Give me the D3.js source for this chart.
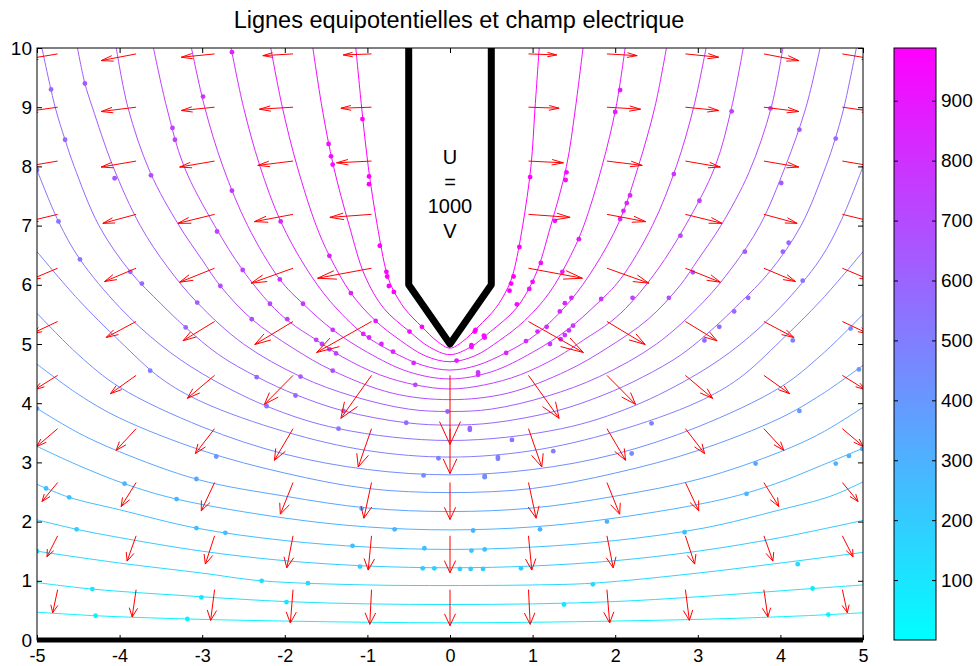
<!DOCTYPE html>
<html>
<head>
<meta charset="utf-8">
<script src="https://cdn.jsdelivr.net/npm/d3@7"></script>
<style>
  body { margin: 0; background: #fff; }
  text { font-family: "Liberation Sans", Arial, sans-serif; }
</style>
</head>
<body>
<script>
// ---- data ----
const xTicks = [-5, -4, -3, -2, -1, 0, 1, 2, 3, 4, 5];
const yTicks = [0, 1, 2, 3, 4, 5, 6, 7, 8, 9, 10];
const cbarTicks = [100, 200, 300, 400, 500, 600, 700, 800, 900];
const cbarRange = [0, 988];

// potential of each equipotential line (V)
const levels = [49, 99, 148, 198, 247, 296, 346, 395, 445, 494,
                543, 593, 642, 692, 741, 790, 840, 889, 939, 988];

const eq1 = [[-5,0.47],[-4.29,0.41],[-3.18,0.355],[-2,0.32],[-1,0.3],[0,0.29],[1,0.3],[2,0.32],[3.18,0.355],[4.3,0.41],[5,0.46]];
const eq2 = [[-5,0.97],[-4.33,0.86],[-3,0.73],[-2,0.65],[-1,0.61],[0,0.6],[1,0.61],[2,0.65],[3,0.73],[4.39,0.87],[5,0.93]];
const eq3 = [[-5,1.5],[-4,1.3],[-3,1.13],[-2.28,1],[-1,0.93],[0,0.92],[1,0.93],[1.73,0.96],[3,1.13],[4,1.3],[5,1.48]];
const eq4 = [[-5,2.03],[-4.52,1.87],[-4,1.73],[-3,1.5],[-2,1.34],[-1,1.25],[0,1.22],[1,1.25],[2,1.34],[3,1.5],[4,1.73],[5,2.02]];
const eq5 = [[-5,2.63],[-4.61,2.41],[-4,2.2],[-3.07,1.89],[-2,1.68],[-1,1.57],[0,1.53],[1,1.57],[2,1.68],[3.07,1.89],[4,2.2],[4.61,2.43],[5,2.67]];
const eq6 = [[-5,3.27],[-4.5,2.95],[-3.94,2.64],[-3.31,2.38],[-2,2.06],[-1,1.91],[0,1.86],[1,1.91],[2,2.06],[3.31,2.38],[3.94,2.64],[4.5,2.95],[5,3.24]];
const eq7 = [[-5,3.91],[-4.5,3.5],[-4,3.18],[-3.05,2.71],[-2,2.43],[-1,2.23],[0,2.17],[1,2.23],[2,2.43],[3.05,2.73],[4,3.18],[4.5,3.5],[5,3.93]];
const eq8 = [[-5,4.66],[-4.5,4.15],[-4,3.75],[-3,3.2],[-2,2.82],[-1,2.56],[0,2.49],[1,2.56],[2,2.82],[3,3.2],[4,3.75],[4.5,4.15],[5,4.64]];
const eq9 = [[-5,5.52],[-4.5,4.82],[-4,4.27],[-3,3.6],[-2,3.14],[-1,2.88],[0,2.79],[1,2.88],[2,3.14],[3,3.6],[4,4.27],[4.5,4.82],[5,5.5]];
const eq10 = [[-5,6.56],[-4.5,5.75],[-4,5.05],[-3.5,4.42],[-3,4.02],[-2,3.52],[-1,3.2],[0,3.09],[1,3.2],[2,3.52],[3,4.02],[3.5,4.42],[4,5.05],[4.5,5.75],[5,6.56]];
const eq11 = [[-5,7.94],[-4.74,7.07],[-4.48,6.43],[-4,5.62],[-3.5,4.98],[-3,4.5],[-2.22,3.95],[-1.35,3.57],[0,3.37],[1.35,3.57],[2.22,3.95],[3,4.5],[3.5,4.98],[4,5.62],[4.48,6.43],[4.74,7.1],[5,8.0]];
const eq12 = [[-4.94,10],[-4.78,9],[-4.66,8.45],[-4.55,8],[-4.25,7],[-3.87,6.22],[-3.5,5.68],[-3.2,5.28],[-2.8,4.82],[-2.33,4.44],[-1.86,4.14],[-1.29,3.87],[-0.53,3.67],[0,3.63],
              [0.53,3.67],[1.29,3.87],[1.86,4.14],[2.33,4.44],[2.8,4.82],[3.2,5.28],[3.5,5.68],[3.87,6.22],[4.25,7],[4.55,8],[4.66,8.45],[4.77,9],[4.92,10]];
const eq13 = [[-4.51,10],[-4.42,9.4],[-4.33,9],[-4.08,8],[-3.75,7],[-3.42,6.3],[-3.06,5.7],[-2.5,5],[-1.81,4.45],[-1.18,4.12],[-0.5,3.9],[0,3.86],
              [0.5,3.9],[1.18,4.12],[1.81,4.45],[2.5,5],[3.06,5.7],[3.42,6.3],[3.75,7],[4.06,8],[4.31,9],[4.48,10]];
const eq14 = [[-4.04,10],[-3.9,9],[-3.63,7.9],[-3.28,7],[-3,6.42],[-2.78,5.98],[-2.4,5.42],[-1.9,4.93],[-1.42,4.55],[-0.7,4.17],[0,4.06],
              [0.7,4.17],[1.42,4.55],[1.9,4.93],[2.4,5.42],[2.78,5.98],[3,6.42],[3.28,7],[3.62,7.9],[3.89,9],[4.03,10]];
const eq15 = [[-3.59,10],[-3.43,9],[-3.22,8],[-2.85,7],[-2.51,6.25],[-2.18,5.68],[-1.95,5.38],[-1.62,5.07],[-1.3,4.78],[-0.85,4.48],[-0.42,4.31],[0,4.24],
              [0.42,4.31],[0.85,4.48],[1.3,4.78],[1.62,5.07],[1.95,5.38],[2.18,5.68],[2.51,6.25],[2.85,7],[3.21,8],[3.41,9],[3.55,10]];
const eq16 = [[-3.13,10],[-2.97,9],[-2.75,8],[-2.45,7],[-2.06,6.09],[-1.78,5.68],[-1.42,5.24],[-1,4.86],[-0.5,4.53],[0,4.41],
              [0.5,4.53],[1,4.86],[1.42,5.24],[1.78,5.68],[2.06,6.09],[2.45,7],[2.74,8],[2.95,9],[3.1,10]];
const eq17 = [[-2.65,10],[-2.5,9],[-2.3,8],[-2.05,7.07],[-1.75,6.3],[-1.45,5.72],[-1.05,5.17],[-0.7,4.87],[-0.33,4.64],[0,4.56],
              [0.33,4.64],[0.7,4.87],[1.05,5.17],[1.45,5.72],[1.75,6.3],[2.05,7.07],[2.28,8],[2.48,9],[2.62,10]];
const eq18 = [[-2.17,10],[-2.03,9],[-1.85,8],[-1.62,7],[-1.46,6.49],[-1.2,5.86],[-0.9,5.39],[-0.6,5.06],[-0.3,4.8],[0,4.7],
              [0.3,4.8],[0.6,5.06],[0.9,5.39],[1.2,5.86],[1.46,6.49],[1.62,7],[1.84,8],[2.01,9],[2.12,10]];
const eq19 = [[-1.66,10],[-1.55,9],[-1.41,8],[-1.22,7],[-1.03,6.15],[-0.8,5.6],[-0.49,5.21],[-0.25,4.95],[0,4.82],
              [0.25,4.95],[0.49,5.21],[0.8,5.6],[1.03,6.15],[1.22,7],[1.41,8],[1.52,9],[1.61,10]];
const eq20 = [[-1.14,10],[-1.07,9],[-0.99,8],[-0.88,7],[-0.77,6.22],[-0.7,5.95],[-0.55,5.6],[-0.34,5.29],[-0.15,5.04],[0,4.93],
              [0.15,5.04],[0.34,5.29],[0.55,5.6],[0.7,5.95],[0.77,6.22],[0.88,7],[0.98,8],[1.03,9],[1.08,10]];
const equipotentials = [eq1, eq2, eq3, eq4, eq5, eq6, eq7, eq8, eq9, eq10,
                        eq11, eq12, eq13, eq14, eq15, eq16, eq17, eq18, eq19, eq20];

// marker dots seen along the contour lines
const dotsLeft = [[-4.29,0.41],[-3.18,0.355],[-4.33,0.86],[-3.01,0.72],[-1.98,0.64],[-2.28,1.0],[-1.72,0.96],[-5,1.5],
  [-4.52,1.87],[-3.07,1.89],[-2.72,1.81],[-0.67,1.87],[-1.18,1.59],[-0.31,1.55],[-1.09,1.24],[-0.33,1.21],[-0.19,1.21],
  [-4.89,2.56],[-4.61,2.41],[-3.94,2.64],[-3.31,2.38],[-1.07,2.22],[-2.83,3.1],[-3.07,2.72],[-0.32,2.78],[-5,3.91],
  [-3.63,4.55],[-2.22,3.95],[-1.35,3.57],[-0.53,3.67],[-0.14,3.07],[-1.87,4.13],[-1.81,4.45],[-1.42,4.55],[-0.42,4.31],
  [-2.34,4.44],[-3.2,5.28],[-1.29,3.87],[-0.03,3.86],[-4.83,9.3],[-4.66,8.45],[-5,7.94],[-4.74,7.07],[-4.48,6.43],
  [-4.42,9.4],[-4.06,7.8],[-3.87,6.22],[-3.73,6.02],[-3.62,7.85],[-3.36,8.65],[-3.33,8.45],[-2.99,9.18],[-2.64,9.93],
  [-2.64,7.59],[-2.82,6.9],[-3.06,5.7],[-2.51,6.25],[-2.78,5.98],[-2.4,5.42],[-2.18,5.68],[-2.05,7.07],[-2.06,6.09],
  [-1.97,5.42],[-1.78,5.68],[-1.46,6.49],[-1.2,5.86],[-1.42,5.24],[-1.62,5.07],[-1.55,5.0],[-1.46,4.91],[-1.38,4.84],
  [-1.05,5.17],[-0.9,5.39],[-1.06,8.8],[-0.98,7.83],[-0.98,7.7],[-1.47,8.38],[-1.44,8.17],[-1.42,8.03],[-0.85,6.66],
  [-0.77,6.22],[-0.76,6.14],[-0.74,5.98],[-0.68,5.88],[-0.44,4.68],[-0.69,4.87],[-0.83,5.0],[-0.98,5.11],[-0.49,5.21],[-0.34,5.29]];
const dotsRight = [[0.97,7.82],[0.84,6.64],[0.77,6.14],[0.74,6.02],[0.72,5.9],[0.81,5.67],[0.3,5.21],[0.42,5.11],[0.26,4.95],
  [0.08,4.72],[1.41,7.9],[1.4,7.77],[1.27,7.08],[1.1,6.37],[1.0,6.05],[0.96,5.93],[2.06,9.29],[2.0,8.92],[2.18,7.51],
  [2.14,7.38],[2.1,7.25],[2.06,7.11],[1.56,6.77],[1.36,6.22],[1.47,5.78],[1.39,5.69],[1.33,5.55],[1.17,5.29],[1.06,5.21],
  [0.92,5.05],[0.68,4.85],[0.34,4.48],[1.49,5.31],[1.44,5.23],[1.39,5.15],[1.34,5.08],[1.21,5.0],[1.83,5.76],[2.21,5.78],
  [2.65,5.78],[2.94,6.21],[2.79,6.83],[2.71,7.87],[3.02,7.42],[3.41,8.93],[3.88,8.98],[4.23,8.62],[4.67,8.47],[4.01,7.72],
  [3.57,6.56],[4.1,6.71],[4.03,6.56],[3.61,5.78],[3.44,5.55],[3.26,5.29],[3.08,5.06],[4.27,6.07],[4.15,5.06],[4.85,5.26],
  [4.95,4.57],[4.23,3.87],[4.99,3.23],[3.7,2.98],[4.67,2.98],[4.83,3.11],[3.59,2.47],[2.84,1.82],[4.21,1.28],[4.39,0.87],
  [4.58,0.43],[1.73,0.94],[1.38,0.6],[0.86,1.21],[0.4,1.2],[0.25,1.2],[0.12,1.2],[0.26,1.51],[0.42,1.53],[1.09,1.87],
  [0.28,1.85],[1.9,2.0],[0.42,2.75],[0.58,3.06],[1.25,3.19],[2.2,3.15],[0.75,3.38],[2.44,3.66],[0.24,3.55],[0.31,5.24],
  [0.41,5.14],[0.26,4.98],[0.34,4.52],[0.24,3.58],[0.58,3.09],[0.42,2.77]];

// electric field arrows (quiver): grid and displayed components
const arrowCols = [-4.75, -3.8, -2.85, -1.9, -0.95, 0, 0.95, 1.9, 2.85, 3.8, 4.75];
const arrowRows = [9.9, 9.0, 8.09, 7.19, 6.28, 5.38, 4.47, 3.57, 2.66, 1.76, 0.85];
const arrowU = [
  [-0.363,-0.423,-0.403,-0.366,-0.342,null,0.342,0.366,0.403,0.423,0.363],
  [-0.363,-0.423,-0.403,-0.407,-0.371,null,0.371,0.407,0.403,0.423,0.363],
  [-0.363,-0.423,-0.423,-0.427,-0.423,null,0.423,0.427,0.423,0.423,0.363],
  [-0.363,-0.403,-0.444,-0.468,-0.504,null,0.504,0.468,0.444,0.403,0.363],
  [-0.339,-0.383,-0.423,-0.508,-0.653,null,0.653,0.508,0.423,0.383,0.339],
  [-0.314,-0.363,-0.383,-0.463,-0.665,null,0.665,0.463,0.383,0.363,0.314],
  [-0.278,-0.311,-0.330,-0.347,-0.371,0,0.371,0.347,0.330,0.311,0.278],
  [-0.254,-0.242,-0.233,-0.226,-0.161,0,0.161,0.226,0.233,0.242,0.254],
  [-0.190,-0.181,-0.161,-0.154,-0.093,0,0.093,0.154,0.161,0.181,0.190],
  [-0.129,-0.109,-0.112,-0.076,-0.040,0,0.040,0.076,0.112,0.109,0.129],
  [-0.060,-0.048,-0.048,-0.033,-0.021,0,0.021,0.033,0.048,0.048,0.060]
];
const arrowV = [
  [-0.084,-0.113,-0.056,-0.029,-0.017,null,-0.017,-0.029,-0.056,-0.113,-0.084],
  [-0.071,-0.073,-0.056,-0.034,-0.017,null,-0.017,-0.034,-0.056,-0.073,-0.071],
  [-0.086,-0.101,-0.101,-0.073,-0.029,null,-0.029,-0.073,-0.101,-0.101,-0.086],
  [-0.122,-0.152,-0.152,-0.123,-0.051,null,-0.051,-0.123,-0.152,-0.152,-0.122],
  [-0.199,-0.225,-0.236,-0.253,-0.169,null,-0.169,-0.253,-0.236,-0.225,-0.199],
  [-0.206,-0.270,-0.326,-0.389,-0.524,null,-0.524,-0.389,-0.326,-0.270,-0.206],
  [-0.242,-0.309,-0.389,-0.490,-0.726,-1.166,-0.726,-0.490,-0.389,-0.309,-0.242],
  [-0.302,-0.367,-0.422,-0.535,-0.647,-0.760,-0.647,-0.535,-0.422,-0.367,-0.302],
  [-0.321,-0.405,-0.478,-0.535,-0.603,-0.625,-0.603,-0.535,-0.478,-0.405,-0.321],
  [-0.355,-0.427,-0.478,-0.541,-0.579,-0.625,-0.579,-0.541,-0.478,-0.427,-0.355],
  [-0.389,-0.461,-0.519,-0.563,-0.586,-0.608,-0.586,-0.563,-0.519,-0.461,-0.389]
];

// electrode outline (U = 1000 V) and grounded plane
const electrode = [[-0.5,10],[-0.5,6],[0,5],[0.5,6],[0.5,10]];
const ground = [[-5,0],[5,0]];
const electrodeLabel = ["U", "=", "1000", "V"];

// ---- drawing ----
const width = 978, height = 666;
const plot = {left: 37, right: 863, top: 48, bottom: 640};
const cbar = {left: 894, right: 936};

const x = d3.scaleLinear().domain([-5, 5]).range([plot.left, plot.right]);
const y = d3.scaleLinear().domain([0, 10]).range([plot.bottom, plot.top]);
const color = d3.scaleLinear().domain(cbarRange).range(["#00ffff", "#ff00ff"]);

const svg = d3.select("body").append("svg")
  .attr("width", width)
  .attr("height", height);

svg.append("defs").append("clipPath").attr("id", "plotclip")
  .append("rect")
  .attr("x", plot.left).attr("y", plot.top)
  .attr("width", plot.right - plot.left).attr("height", plot.bottom - plot.top);

const inner = svg.append("g").attr("clip-path", "url(#plotclip)");

// contour lines
const line = d3.line()
  .x(d => x(d[0]))
  .y(d => y(d[1]))
  .curve(d3.curveCatmullRom.alpha(0.5));

inner.append("g").selectAll("path")
  .data(equipotentials)
  .enter().append("path")
  .attr("d", line)
  .attr("fill", "none")
  .attr("stroke", (d, i) => color(levels[i]))
  .attr("stroke-width", 1);

// dots take the colour of the nearest contour
function segDist(px, py, ax, ay, bx, by) {
  const dx = bx - ax, dy = by - ay;
  const L = dx * dx + dy * dy;
  let t = L ? ((px - ax) * dx + (py - ay) * dy) / L : 0;
  t = Math.max(0, Math.min(1, t));
  const qx = ax + t * dx - px, qy = ay + t * dy - py;
  return Math.sqrt(qx * qx + qy * qy);
}
function nearestLevel(d) {
  const px = x(d[0]), py = y(d[1]);
  let best = 0, bestD = Infinity;
  equipotentials.forEach((pts, i) => {
    for (let k = 0; k < pts.length - 1; k++) {
      const dd = segDist(px, py, x(pts[k][0]), y(pts[k][1]), x(pts[k + 1][0]), y(pts[k + 1][1]));
      if (dd < bestD) { bestD = dd; best = i; }
    }
  });
  return levels[best];
}

inner.append("g").selectAll("circle")
  .data(dotsLeft.concat(dotsRight))
  .enter().append("circle")
  .attr("cx", d => x(d[0]))
  .attr("cy", d => y(d[1]))
  .attr("r", 2.4)
  .attr("fill", d => color(nearestLevel(d)));

// quiver arrows, MATLAB-like heads (alpha = beta = 0.33 in data units)
const arrows = [];
arrowRows.forEach((ry, i) => {
  arrowCols.forEach((cx, j) => {
    const u = arrowU[i][j], v = arrowV[i][j];
    if (u === null || v === null) return;
    arrows.push({x0: cx, y0: ry, u: u, v: v});
  });
});
const alpha = 0.33, beta = 0.33;
function arrowPath(a) {
  const tx = a.x0 + a.u, ty = a.y0 + a.v;
  const h1x = tx - alpha * (a.u + beta * a.v), h1y = ty - alpha * (a.v - beta * a.u);
  const h2x = tx - alpha * (a.u - beta * a.v), h2y = ty - alpha * (a.v + beta * a.u);
  return "M" + x(a.x0) + "," + y(a.y0) + "L" + x(tx) + "," + y(ty) +
         "M" + x(h1x) + "," + y(h1y) + "L" + x(tx) + "," + y(ty) + "L" + x(h2x) + "," + y(h2y);
}
inner.append("g").selectAll("path")
  .data(arrows)
  .enter().append("path")
  .attr("d", arrowPath)
  .attr("fill", "none")
  .attr("stroke", "#ff0000")
  .attr("stroke-width", 1);

// electrode and ground
const straight = d3.line().x(d => x(d[0])).y(d => y(d[1]));
inner.append("path")
  .attr("d", straight(electrode))
  .attr("fill", "none")
  .attr("stroke", "#000")
  .attr("stroke-width", 7)
  .attr("stroke-linejoin", "round");
svg.append("path")
  .attr("d", straight(ground))
  .attr("stroke", "#000")
  .attr("stroke-width", 5);

svg.append("g").selectAll("text")
  .data(electrodeLabel)
  .enter().append("text")
  .attr("x", x(0))
  .attr("y", (d, i) => 164 + i * 24.5)
  .attr("text-anchor", "middle")
  .attr("font-size", 20)
  .text(d => d);

// axes
function styleAxis(g) {
  g.select(".domain").remove();
  g.selectAll(".tick line").attr("stroke", "#000");
  g.selectAll(".tick text").attr("fill", "#000")
    .style("font-family", '"Liberation Sans", Arial, sans-serif');
}
const plain = d => String(d);
svg.append("g")
  .attr("transform", `translate(0,${plot.bottom})`)
  .call(d3.axisBottom(x).tickValues(xTicks).tickSizeInner(-5).tickSizeOuter(0).tickPadding(9).tickFormat(plain))
  .attr("font-size", 18)
  .call(styleAxis);
svg.append("g")
  .attr("transform", `translate(0,${plot.top})`)
  .call(d3.axisTop(x).tickValues(xTicks).tickSizeInner(-5).tickSizeOuter(0).tickFormat(""))
  .call(styleAxis);
svg.append("g")
  .attr("transform", `translate(${plot.left},0)`)
  .call(d3.axisLeft(y).tickValues(yTicks).tickSizeInner(-5).tickSizeOuter(0).tickPadding(5).tickFormat(plain))
  .attr("font-size", 19)
  .call(styleAxis);
svg.append("g")
  .attr("transform", `translate(${plot.right},0)`)
  .call(d3.axisRight(y).tickValues(yTicks).tickSizeInner(-5).tickSizeOuter(0).tickFormat(""))
  .call(styleAxis);

svg.append("rect")
  .attr("x", plot.left).attr("y", plot.top)
  .attr("width", plot.right - plot.left).attr("height", plot.bottom - plot.top)
  .attr("fill", "none").attr("stroke", "#000").attr("stroke-width", 1);

// title
svg.append("text")
  .attr("x", 459)
  .attr("y", 27.5)
  .attr("text-anchor", "middle")
  .attr("font-size", 23.5)
  .text("Lignes equipotentielles et champ electrique");

// colorbar
const cy = d3.scaleLinear().domain(cbarRange).range([plot.bottom, plot.top]);
const grad = svg.select("defs").append("linearGradient")
  .attr("id", "coolgrad")
  .attr("x1", 0).attr("y1", 1).attr("x2", 0).attr("y2", 0);
grad.append("stop").attr("offset", "0%").attr("stop-color", color(cbarRange[0]));
grad.append("stop").attr("offset", "100%").attr("stop-color", color(cbarRange[1]));

svg.append("rect")
  .attr("x", cbar.left).attr("y", plot.top)
  .attr("width", cbar.right - cbar.left).attr("height", plot.bottom - plot.top)
  .attr("fill", "url(#coolgrad)");
svg.append("g")
  .attr("transform", `translate(${cbar.left},0)`)
  .call(d3.axisLeft(cy).tickValues(cbarTicks).tickSizeInner(-4).tickSizeOuter(0).tickFormat(""))
  .call(styleAxis);
svg.append("g")
  .attr("transform", `translate(${cbar.right},0)`)
  .call(d3.axisRight(cy).tickValues(cbarTicks).tickSizeInner(-4).tickSizeOuter(0).tickPadding(5))
  .attr("font-size", 19)
  .call(styleAxis);
svg.append("rect")
  .attr("x", cbar.left).attr("y", plot.top)
  .attr("width", cbar.right - cbar.left).attr("height", plot.bottom - plot.top)
  .attr("fill", "none").attr("stroke", "#000").attr("stroke-width", 1);
</script>
</body>
</html>
